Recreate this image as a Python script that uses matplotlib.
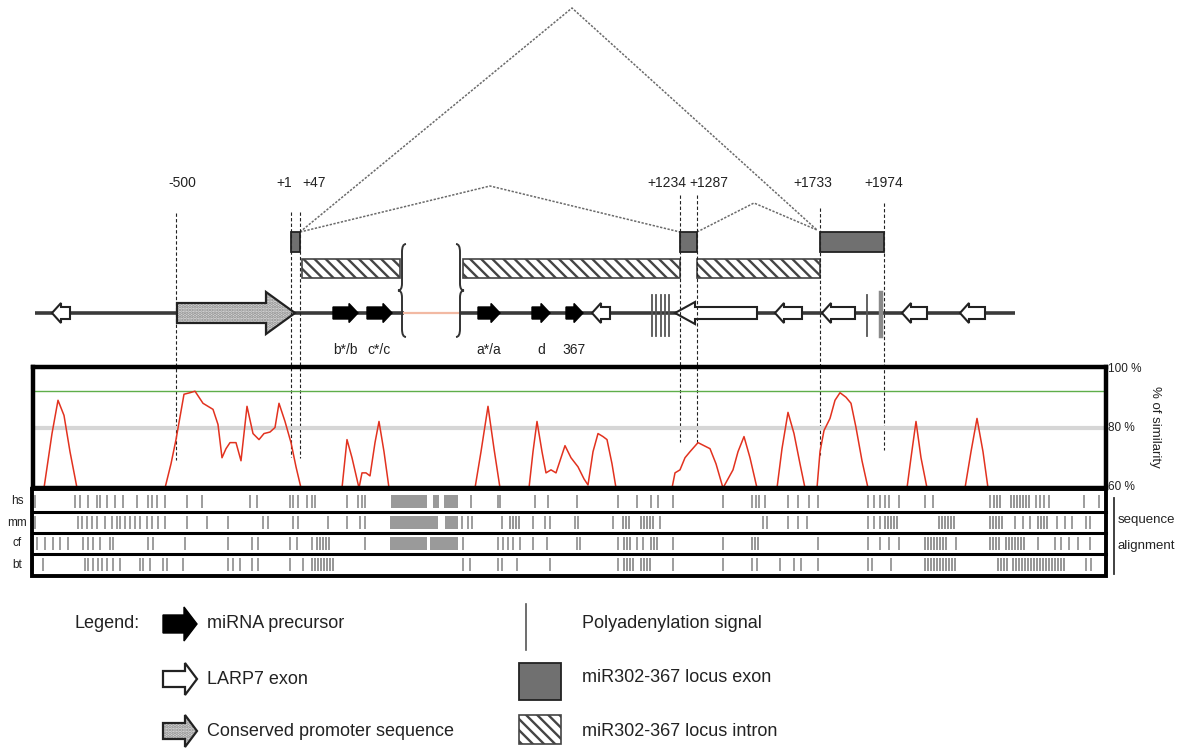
import numpy as np
import matplotlib.pyplot as plt
from matplotlib.patches import Polygon, Rectangle, PathPatch
from matplotlib.path import Path

# ------------------ DATA (diagram x = pixel column of the figure) ------------------

coord_labels = ['-500', '+1', '+47', '+1234', '+1287', '+1733', '+1974']
coord_x = [176, 291, 300, 680, 697, 820, 884]
coord_label_x = [182, 284, 314, 667, 709, 813, 884]
coord_top = [213, 212, 212, 195, 195, 208, 203]
coord_bottom = [460, 457, 458, 442, 444, 455, 450]

exon_start = [291, 680, 820]
exon_end = [300, 697, 884]
intron_start = [302, 463, 697]
intron_end = [400, 680, 820]

# splicing (dotted) paths: start, apex, end
splice_paths = [
    [(300, 232), (572, 8), (817, 230)],
    [(300, 232), (490, 186), (680, 232)],
    [(697, 232), (754, 203), (817, 230)],
]

mirna_start = [333, 367, 478, 532, 566]
mirna_end = [358, 392, 500, 550, 583]
mirna_names = ['b*/b', 'c*/c', 'a*/a', 'd', '367']

# LARP7 exons, all on the reverse strand (tip on the left)
larp7_tip = [52, 592, 675, 775, 822, 902, 960]
larp7_end = [70, 610, 757, 802, 855, 927, 985]

promoter = (177, 295)
polya_x = [652, 656, 661, 665, 669, 867]
polya_gray_x = [881]

# % similarity peaks (x, %)
peaks_x = [
    [44, 52, 58, 64, 70, 77],
    [165, 171, 176, 184, 190, 195, 203, 208, 213, 218, 222, 226, 230, 236, 241, 247,
     253, 259, 264, 270, 275, 279, 285, 291, 296, 301],
    [342, 347, 352, 359, 362, 366, 370, 375, 379, 384, 389],
    [475, 481, 488, 494, 500],
    [529, 533, 537, 542, 546, 551, 556, 561, 565, 571, 578, 584, 588, 593, 598, 603,
     607, 612, 616],
    [672, 675, 680, 685, 690, 698, 704, 710, 716, 723, 728, 733, 738, 744, 750, 757],
    [777, 782, 788, 794, 800, 805],
    [817, 820, 824, 830, 835, 840, 846, 851, 856, 862, 868],
    [907, 911, 916, 921, 927],
    [965, 971, 977, 983, 988],
]
peaks_pct = [
    [60, 78, 89, 84, 72, 60],
    [60, 68, 76, 91, 91.5, 92, 88, 87, 86, 81, 70, 73, 75, 75, 69, 87,
     78, 76, 78, 78.5, 80, 88, 82, 75, 67, 60],
    [60, 76, 70, 60, 65, 65, 64, 75, 82, 72, 60],
    [60, 72, 87, 73, 60],
    [60, 72, 82, 72, 65, 66, 65, 70, 74, 70, 67, 63, 61, 72, 78, 77,
     76, 68, 60],
    [60, 65, 66, 70, 72, 75, 74, 73, 68, 60, 63, 66, 72, 77, 70, 60],
    [60, 73, 85, 78, 68, 60],
    [60, 72, 79, 83, 89, 91.5, 90, 88, 80, 69, 60],
    [60, 70, 82, 70, 60],
    [60, 72, 83, 72, 60],
]
green_level = 92
gray_level = 80

# sequence alignment rows
species = ['hs', 'mm', 'cf', 'bt']
align_ticks = {
    'hs': [35, 75, 80, 88, 97, 100, 107, 115, 123, 137, 148, 152, 157, 165, 187, 202, 250, 257,
           290, 293, 298, 307, 312, 315, 347, 358, 362, 365, 471, 498, 500, 535, 548, 577, 618,
           637, 651, 658, 673, 723, 752, 756, 759, 765, 788, 798, 809, 818, 868, 874, 880, 885,
           889, 899, 925, 933, 990, 1036, 1040, 1044, 1049, 1084, 1099],
    'mm': [35, 78, 82, 87, 92, 97, 105, 112, 117, 120, 125, 130, 135, 140, 147, 152, 158, 165,
           187, 207, 228, 263, 268, 293, 298, 328, 347, 360, 365, 462, 468, 472, 502, 533, 545,
           550, 575, 578, 613, 660, 763, 767, 788, 798, 807, 868, 874, 880, 1015, 1023, 1030,
           1057, 1065, 1072, 1086, 1090],
    'cf': [37, 45, 53, 60, 68, 83, 88, 93, 100, 110, 113, 148, 153, 185, 228, 252, 258, 290,
           297, 312, 365, 463, 498, 503, 508, 513, 520, 533, 547, 577, 580, 618, 637, 643, 673,
           723, 818, 868, 880, 889, 899, 956, 1038, 1055, 1061, 1069, 1078, 1090],
    'bt': [33, 43, 85, 88, 93, 98, 102, 107, 113, 120, 140, 143, 150, 163, 167, 183, 228, 233,
           240, 252, 258, 290, 303, 463, 470, 498, 502, 517, 550, 618, 673, 723, 752, 757, 780,
           794, 801, 818, 868, 872, 891, 1086, 1091],
}
align_blocks = {
    'hs': [(391, 427), (433, 439), (444, 458)],
    'mm': [(390, 438), (445, 458)],
    'cf': [(390, 427), (430, 458)],
    'bt': [],
}
align_clusters = {
    'hs': [(994, 1000), (1011, 1030)],
    'mm': [(510, 520), (623, 630), (641, 653), (885, 899), (939, 956), (990, 1002), (1038, 1049)],
    'cf': [(317, 330), (624, 632), (651, 657), (752, 759), (925, 946), (990, 1000), (1006, 1025)],
    'bt': [(312, 333), (624, 635), (641, 652), (925, 956), (998, 1007), (1013, 1065)],
}

legend_left = ['miRNA precursor', 'LARP7 exon', 'Conserved promoter sequence']
legend_right = ['Polyadenylation signal', 'miR302-367 locus exon', 'miR302-367 locus intron']

# ------------------ FIGURE ------------------

plt.rcParams['font.family'] = ['Liberation Sans', 'DejaVu Sans']
plt.rcParams['hatch.linewidth'] = 1.7

W, H = 1178, 751
fig = plt.figure(figsize=(W / 100, H / 100), dpi=100)
ax = fig.add_axes([0, 0, 1, 1])
ax.set_xlim(0, W)
ax.set_ylim(H, 0)
ax.axis('off')

EXON_GRAY = '#707070'
TXT = '#222222'
HATCH = '\\' * 3


def arrow_pts(x_tail, x_tip, y, body, head, head_len):
    d = np.sign(x_tip - x_tail)
    xb = x_tip - d * head_len
    return [(x_tail, y - body), (xb, y - body), (xb, y - head), (x_tip, y),
            (xb, y + head), (xb, y + body), (x_tail, y + body)]


def promoter_arrow(x0, x1, y, body, head, head_len, z=4):
    pts = arrow_pts(x0, x1, y, body, head, head_len)
    ax.add_patch(Polygon(pts, closed=True, facecolor='#d9d9d9', edgecolor='none', zorder=z))
    ax.add_patch(Polygon(pts, closed=True, facecolor='none', edgecolor='#8c8c8c', lw=0,
                         hatch='.....', zorder=z + 0.1))
    ax.add_patch(Polygon(pts, closed=True, facecolor='none', edgecolor=TXT, lw=1.6,
                         zorder=z + 0.2))


# coordinate labels and dashed guide lines
for lab, x, lx, y0, y1 in zip(coord_labels, coord_x, coord_label_x, coord_top, coord_bottom):
    ax.text(lx, 183, lab, ha='center', va='center', fontsize=10, color=TXT)
    ax.plot([x, x], [y0, y1], color=TXT, lw=0.8, ls=(0, (3, 2)), zorder=6)

# splice lines
for path in splice_paths:
    xs, ys = zip(*path)
    ax.plot(xs, ys, color='#6a6a6a', lw=1.1, ls=(0, (1.5, 1)), zorder=2)

# exons
for x0, x1 in zip(exon_start, exon_end):
    ax.add_patch(Rectangle((x0, 232), x1 - x0, 20, facecolor=EXON_GRAY, edgecolor=TXT,
                           lw=1.3, zorder=3))

# introns
for x0, x1 in zip(intron_start, intron_end):
    ax.add_patch(Rectangle((x0, 259), x1 - x0, 19, facecolor='white', edgecolor='#444444',
                           lw=1.2, hatch=HATCH, zorder=3))


# braces marking the break
def brace(x, y0, y1, side):
    s = side
    ym = (y0 + y1) / 2
    verts = [(x + 4 * s, y0), (x, y0), (x, y0 + 8), (x, ym - 7), (x, ym), (x - 4 * s, ym),
             (x, ym), (x, ym + 7), (x, y1 - 8), (x, y1), (x + 4 * s, y1)]
    codes = [Path.MOVETO, Path.CURVE3, Path.CURVE3, Path.LINETO, Path.CURVE3, Path.CURVE3,
             Path.CURVE3, Path.CURVE3, Path.LINETO, Path.CURVE3, Path.CURVE3]
    ax.add_patch(PathPatch(Path(verts, codes), facecolor='none', edgecolor='#333333', lw=1.4,
                           zorder=5))


brace(402, 244, 337, 1)
brace(460, 244, 337, -1)

# genomic line
ax.plot([35, 404], [313, 313], color='#3a3a3a', lw=2.6, zorder=1, solid_capstyle='butt')
ax.plot([404, 460], [313, 313], color='#f2b9a3', lw=1.6, zorder=1)
ax.plot([460, 1015], [313, 313], color='#3a3a3a', lw=2.6, zorder=1, solid_capstyle='butt')

# promoter
promoter_arrow(promoter[0], promoter[1], 313, 10, 21, 29)

# miRNA precursors
for x0, x1, name in zip(mirna_start, mirna_end, mirna_names):
    ax.add_patch(Polygon(arrow_pts(x0, x1, 313, 6, 9.5, 9), closed=True, facecolor='black',
                         edgecolor='black', lw=1, zorder=5))
    ax.text((x0 + x1) / 2, 350, name, ha='center', va='center', fontsize=10, color=TXT)

# LARP7 exons
for xt, xe in zip(larp7_tip, larp7_end):
    big = (xe - xt) > 60
    pts = arrow_pts(xe, xt, 313, 6, 11 if big else 10, 20 if big else 9)
    ax.add_patch(Polygon(pts, closed=True, facecolor='white', edgecolor=TXT, lw=1.5,
                         zorder=5))

# polyadenylation signals
for x in polya_x:
    ax.plot([x, x], [295, 336], color='#555555', lw=1.3, zorder=4)
for x in polya_gray_x:
    ax.plot([x, x], [293, 336], color='#8a8a8a', lw=3.2, zorder=4)

# ------------------ SIMILARITY PANEL ------------------

sim = fig.add_axes([33 / W, 1 - 488 / H, (1106 - 33) / W, (488 - 367) / H])
sim.set_xlim(33, 1106)
sim.set_ylim(60, 100)
sim.set_facecolor('none')
sim.set_xticks([])
sim.set_yticks([])
for sp in sim.spines.values():
    sp.set_linewidth(3.2)
sim.axhline(green_level, color='#5fae4a', lw=1.0)
sim.axhline(gray_level, color='#d6d6d6', lw=3.0)
for px, pp in zip(peaks_x, peaks_pct):
    sim.plot(px, pp, color='#e2321f', lw=1.1, clip_on=True)

for lab, y in zip(['100 %', '80 %', '60 %'], [369, 428, 487]):
    ax.text(1108, y, lab, ha='left', va='center', fontsize=8.5, color=TXT)
ax.text(1155, 427, '% of similarity', rotation=-90, ha='center', va='center', fontsize=9.5,
        color=TXT)

# ------------------ ALIGNMENT ------------------

row_top = [491, 512, 533, 554]
row_h = 21
for sp_name, y0 in zip(species, row_top):
    ax.text(17, y0 + row_h / 2, sp_name, ha='center', va='center', fontsize=8.5, color=TXT)
    yt, yb = y0 + 4, y0 + row_h - 4
    ax.vlines(align_ticks[sp_name], yt, yb, color='#8c8c8c', lw=1.2, zorder=2)
    for c0, c1 in align_clusters[sp_name]:
        ax.vlines(np.arange(c0, c1 + 0.1, 3), yt, yb, color='#8c8c8c', lw=1.3, zorder=2)
    for b0, b1 in align_blocks[sp_name]:
        ax.add_patch(Rectangle((b0, yt), b1 - b0, yb - yt, facecolor='#9a9a9a', edgecolor='none',
                               zorder=2))

ax.add_patch(Rectangle((32, 489), 1106 - 32, 576 - 489, facecolor='none', edgecolor='black',
                       lw=2.8, zorder=3))
for y in [511.5, 532.5, 553.5]:
    ax.plot([32, 1106], [y, y], color='black', lw=2.2, zorder=3)

ax.plot([1114, 1114], [498, 574], color='#333333', lw=1.3)
ax.text(1118, 520, 'sequence', ha='left', va='center', fontsize=9.5, color=TXT)
ax.text(1118, 546, 'alignment', ha='left', va='center', fontsize=9.5, color=TXT)

# ------------------ LEGEND ------------------

leg_y = [624, 679, 731]
ax.text(74, leg_y[0], 'Legend:', ha='left', va='center', fontsize=13, color=TXT)
ax.add_patch(Polygon(arrow_pts(163, 197, leg_y[0], 9, 17, 13), closed=True, facecolor='black',
                     edgecolor='black', lw=1, zorder=5))
ax.add_patch(Polygon(arrow_pts(163, 197, leg_y[1], 8, 16, 12), closed=True, facecolor='white',
                     edgecolor=TXT, lw=1.6, zorder=5))
promoter_arrow(163, 197, leg_y[2], 8, 16, 12)
for lab, y in zip(legend_left, leg_y):
    ax.text(207, y, lab, ha='left', va='center', fontsize=13, color=TXT)

ax.plot([526, 526], [604, 650], color='#555555', lw=1.2)
ax.add_patch(Rectangle((519, 663), 42, 37, facecolor=EXON_GRAY, edgecolor=TXT, lw=1.3))
ax.add_patch(Rectangle((519, 715), 42, 29, facecolor='white', edgecolor='#444444', lw=1.2,
                       hatch=HATCH))
for lab, y in zip(legend_right, [623, 677, 731]):
    ax.text(582, y, lab, ha='left', va='center', fontsize=13, color=TXT)

fig.savefig('out.png', dpi=100)
